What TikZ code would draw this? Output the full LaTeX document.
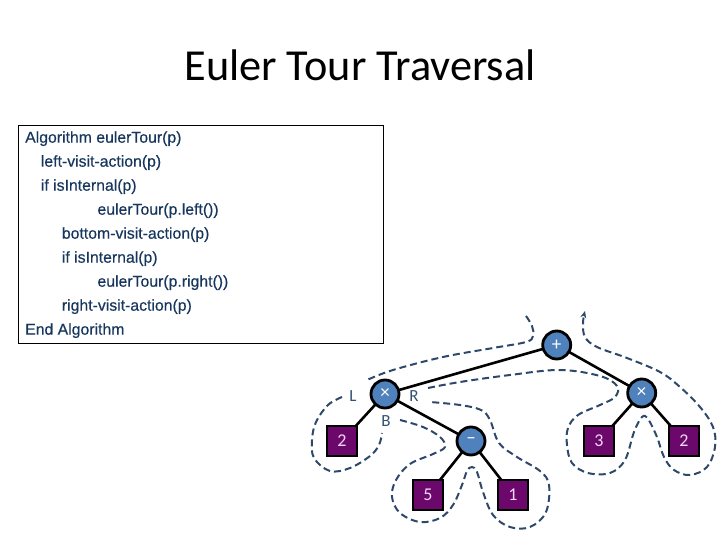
\documentclass[tikz,border=0pt]{standalone}
\usepackage{fontspec}
\setmainfont{Carlito}
\newfontfamily\arialf[FakeBold=0.4]{Liberation Sans}
\usetikzlibrary{arrows.meta}
\definecolor{codecol}{RGB}{23,54,93}
\definecolor{tourcol}{RGB}{45,72,105}
\definecolor{lblcol}{RGB}{50,80,115}
\definecolor{circfill}{RGB}{79,129,189}
\definecolor{sqfill}{RGB}{108,8,108}
\definecolor{sqtext}{RGB}{245,215,245}
\tikzset{
  codeline/.style={anchor=base west, inner sep=0pt, text=codecol, font=\arialf\fontsize{15.8}{18}\selectfont},
  opnode/.style={circle, draw=black, line width=2.8pt, fill=circfill, minimum size=28pt, inner sep=0pt, text=white, font=\fontsize{19}{20}\selectfont},
  leaf/.style={rectangle, draw=black, line width=2.6pt, fill=sqfill, minimum size=30pt, inner sep=0pt, text=sqtext, font=\fontsize{18}{20}\selectfont},
  edge/.style={draw=black, line width=2.6pt},
  tour/.style={draw=tourcol, line width=2pt, dash pattern=on 7pt off 4pt},
  lbl/.style={text=lblcol, inner sep=0pt, font=\fontsize{17}{18}\selectfont}
}
\begin{document}
\begin{tikzpicture}[x=1pt,y=-1pt]
\useasboundingbox (0,0) rectangle (720,540);
% title
\node[anchor=base, inner sep=0pt, font=\fontsize{44.3}{50}\selectfont] (title) at (360,81) {Euler Tour Traversal};
% code box
\draw[black, line width=1pt] (18,126) rectangle (383,343);
\node[codeline] (c1) at (25,142.7) {Algorithm eulerTour(p)};
\node[codeline] (c2) at (40.7,166.7) {left-visit-action(p)};
\node[codeline] (c3) at (40.7,190.7) {if isInternal(p)};
\node[codeline] (c4) at (97.3,214.7) {eulerTour(p.left())};
\node[codeline] (c5) at (61.7,238.7) {bottom-visit-action(p)};
\node[codeline] (c6) at (61.7,262.7) {if isInternal(p)};
\node[codeline] (c7) at (97.3,286.7) {eulerTour(p.right())};
\node[codeline] (c8) at (61.7,310.7) {right-visit-action(p)};
\node[codeline] (c9) at (25,334.7) {End Algorithm};
% tree node positions
\coordinate (pplus) at (556.7,345);
\coordinate (ptl) at (385,394);
\coordinate (ptr) at (641.7,393);
\coordinate (pminus) at (471,441);
\coordinate (pl2a) at (342,441);
\coordinate (pl5) at (428,495);
\coordinate (pl1) at (513,495);
\coordinate (pl3) at (599,441);
\coordinate (pl2b) at (684,441);
% edges (drawn first, behind nodes)
\draw[edge] (pplus) -- (ptl);
\draw[edge] (pplus) -- (ptr);
\draw[edge] (ptl) -- (pl2a);
\draw[edge] (ptl) -- (pminus);
\draw[edge] (pminus) -- (pl5);
\draw[edge] (pminus) -- (pl1);
\draw[edge] (ptr) -- (pl3);
\draw[edge] (ptr) -- (pl2b);
% nodes
\node[opnode] (plus) at (pplus) {+};
\node[opnode] (tl) at (ptl) {×};
\node[opnode] (tr) at (ptr) {×};
\node[opnode] (minus) at (pminus) {–};
\node[leaf] (l2a) at (pl2a) {2};
\node[leaf] (l5) at (pl5) {5};
\node[leaf] (l1) at (pl1) {1};
\node[leaf] (l3) at (pl3) {3};
\node[leaf] (l2b) at (pl2b) {2};
% labels
\node[lbl] (L) at (353,396) {L};
\node[lbl] (R) at (414,396) {R};
\node[lbl] (B) at (386,421) {B};
% Euler tour path
\draw[tour] plot[smooth, tension=0.6] coordinates {(526,316) (532,326) (533,336) (526,342) (493,348) (443,357) (393,370) (367,380)};
\draw[tour] plot[smooth, tension=0.6] coordinates {(342,397) (328,405) (316,422) (312,440) (314,458) (330,471) (350,468) (370,456) (379,445) (382,433)};
\draw[tour] plot[smooth, tension=0.6] coordinates {(400,420) (423,427) (440,437) (445,447) (433,454) (410,464) (396,480) (392,497) (400,513) (420,522) (440,518) (453,505) (462,485) (467,471) (472,467) (477,472) (483,492) (493,515) (510,527) (530,527) (546,512) (549,485) (540,471) (517,457) (499,443) (490,420) (481,410) (460,405) (430,402)};
\draw[tour, -{Stealth[length=7pt,width=6pt]}] plot[smooth, tension=0.6] coordinates {(428,388) (460,382) (510,375) (560,370) (600,376) (617,386) (615,397) (600,405) (578,415) (568,428) (567,445) (572,463) (588,473) (610,473) (625,460) (634,432) (642,417) (648,419) (657,437) (664,457) (674,470) (690,475) (707,467) (715,447) (713,427) (700,407) (680,387) (660,372) (627,358) (597,347) (585,337) (583,323) (585,311)};
\end{tikzpicture}
\end{document}
